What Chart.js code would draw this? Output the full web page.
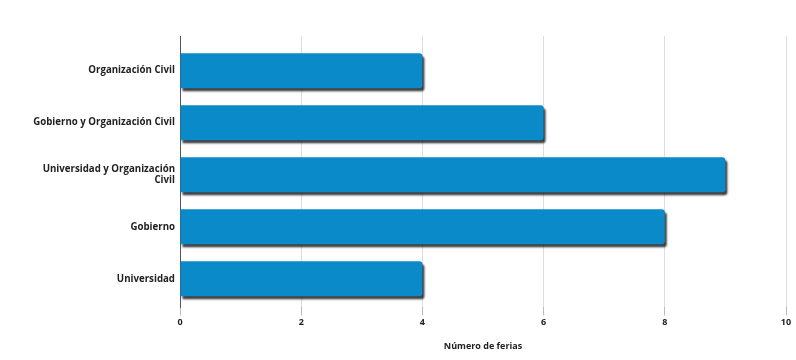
<!DOCTYPE html>
<html>
<head>
<meta charset="utf-8">
<script src="https://cdn.jsdelivr.net/npm/chart.js@4"></script>
<style>
  html, body { margin: 0; padding: 0; background: #fff; }
  #wrap { width: 796px; height: 360px; }
</style>
</head>
<body>
<div id="wrap"><canvas id="miGrafico"></canvas></div>
<script>
const categorias = [
  'Organización Civil',
  'Gobierno y Organización Civil',
  ['Universidad y Organización', 'Civil'],
  'Gobierno',
  'Universidad'
];
const ferias = [4, 6, 9, 8, 4];
const tituloEjeX = 'Número de ferias';

// eje y numerico para que la linea del eje sobresalga un poco de las barras
const puntos = ferias.map((v, i) => ({ x: v, y: i }));

// sombra oscura debajo de las barras
const sombra = {
  id: 'sombra',
  beforeDatasetsDraw(chart) {
    const ctx = chart.ctx;
    ctx.save();
    ctx.shadowColor = 'rgba(0,0,0,0.75)';
    ctx.shadowOffsetX = 2;
    ctx.shadowOffsetY = 3;
    ctx.shadowBlur = 2;
  },
  afterDatasetsDraw(chart) {
    chart.ctx.restore();
  }
};

document.addEventListener('DOMContentLoaded', () => {
  const canvas = document.getElementById('miGrafico');
  new Chart(canvas.getContext('2d'), {
    type: 'bar',
    data: {
      datasets: [{
        data: puntos,
        backgroundColor: '#0b8ac9',
        borderRadius: 3,
        borderSkipped: 'start',
        barPercentage: 0.82,
        categoryPercentage: 0.82
      }]
    },
    options: {
      indexAxis: 'y',
      responsive: true,
      maintainAspectRatio: false,
      animation: false,
      layout: { padding: { top: 36, right: 10, bottom: 4, left: 0 } },
      plugins: {
        legend: { display: false },
        tooltip: { enabled: false }
      },
      scales: {
        x: {
          type: 'linear',
          min: 0,
          max: 10,
          ticks: {
            stepSize: 2,
            color: '#222',
            font: { family: 'Open Sans', weight: 'bold', size: 9 },
            padding: 2
          },
          grid: { color: '#dddddd', tickLength: 8, tickColor: '#bbbbbb' },
          border: { display: false },
          title: {
            display: true,
            text: tituloEjeX,
            color: '#222',
            font: { family: 'Open Sans', weight: 'bold', size: 9 },
            padding: { top: 11 }
          }
        },
        y: {
          type: 'linear',
          reverse: true,
          offset: false,
          min: -0.667,
          max: 4.55,
          afterFit(scale) { scale.width = 180; },
          afterBuildTicks(scale) {
            scale.ticks = categorias.map((c, i) => ({ value: i }));
          },
          ticks: {
            color: '#222',
            font: { family: 'Open Sans', weight: 'bold', size: 9.7 },
            padding: 5,
            callback: (v) => categorias[v]
          },
          grid: { display: false, drawTicks: false, offset: false },
          border: { display: true, color: '#555', width: 1 }
        }
      }
    },
    plugins: [sombra]
  });
});
</script>
</body>
</html>
